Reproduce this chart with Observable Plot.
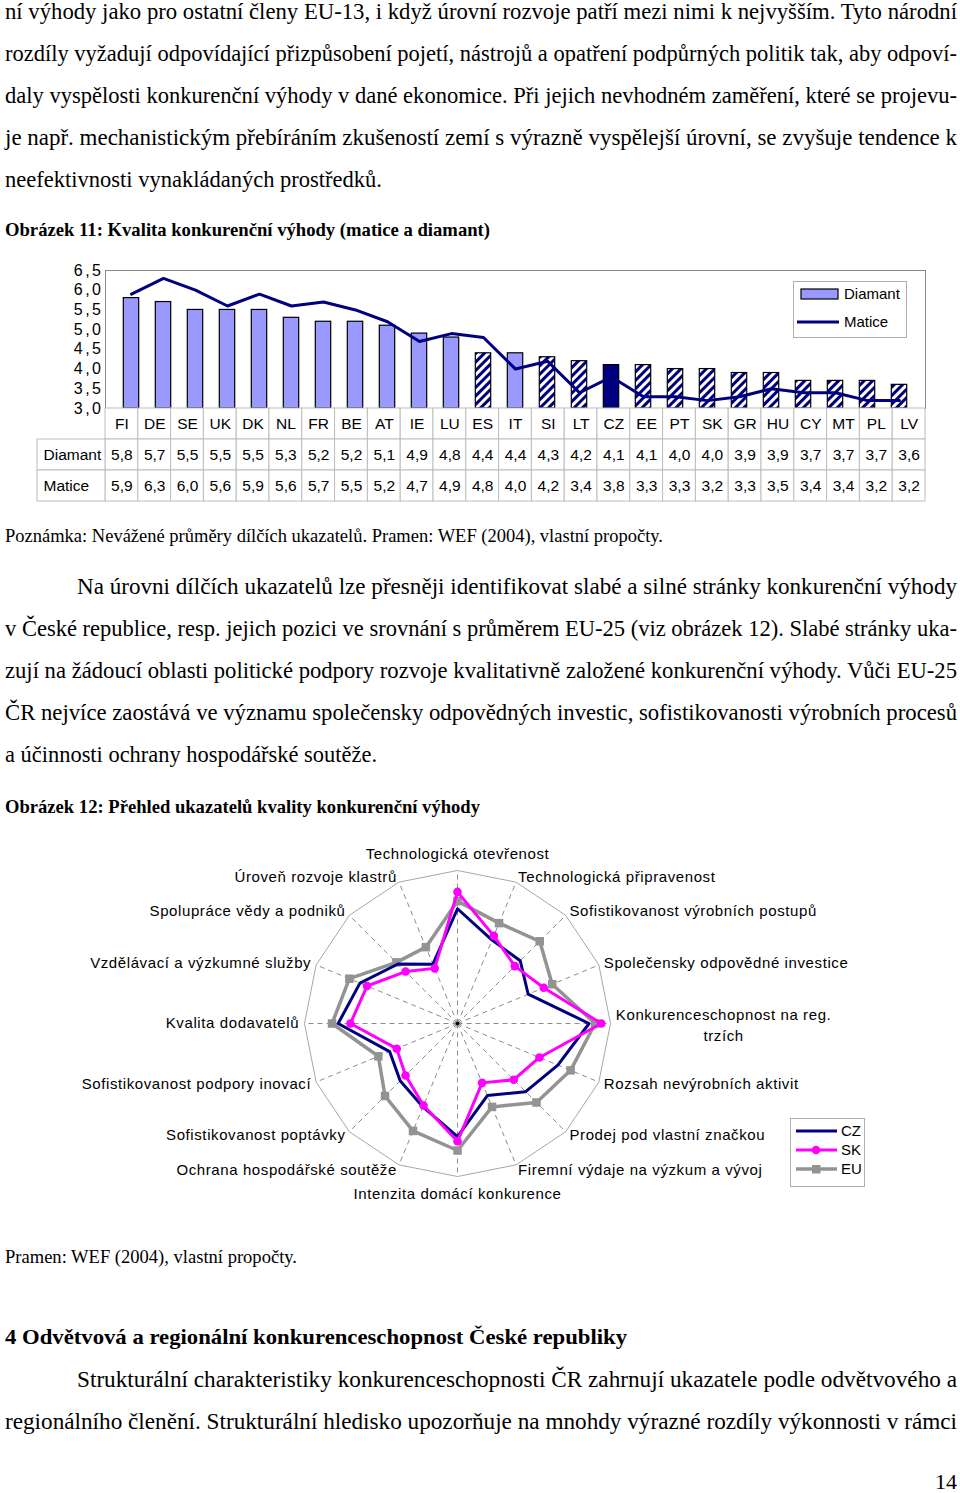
<!DOCTYPE html>
<html><head><meta charset="utf-8">
<script src="https://cdn.jsdelivr.net/npm/d3@7"></script>
<script src="https://cdn.jsdelivr.net/npm/@observablehq/plot@0.6"></script>
<style>
html,body{margin:0;padding:0;background:#fff;}
body{position:relative;width:960px;height:1493px;overflow:hidden;}
.ln{position:absolute;white-space:nowrap;display:inline-block;transform-origin:0 50%;font-family:"Liberation Serif","Times New Roman",serif;color:#000;line-height:1.2;}
svg{overflow:visible;}
.abs{position:absolute;}
#c1 g[aria-label="y-axis tick label"] text{letter-spacing:2.5px;}
</style></head><body>
<svg width="0" height="0" style="position:absolute">
  <defs>
    <pattern id="hatch" patternUnits="userSpaceOnUse" width="6" height="6" patternTransform="rotate(45)">
      <rect width="6" height="6" fill="#ffffff"></rect>
      <rect width="3" height="6" fill="#000080"></rect>
    </pattern>
  </defs>
</svg>
<div id="c1" class="abs" style="left:0;top:250px"></div>
<div id="t1" class="abs" style="left:0;top:408px"></div>
<div id="c2" class="abs" style="left:0;top:835px"></div>

<div class="abs" style="left:793px;top:281px;width:112px;height:55px;border:1px solid #b0b0b0;background:#fff;">
  <svg width="112" height="55" style="font-family:'Liberation Sans',Arial,sans-serif;font-size:15px">
    <rect x="7" y="7" width="37" height="10" fill="#9999ff" stroke="#000" stroke-width="1.2"></rect>
    <text x="50" y="12" dy="0.35em">Diamant</text>
    <line x1="3" x2="45" y1="40" y2="40" stroke="#000080" stroke-width="3"></line>
    <text x="50" y="40" dy="0.35em">Matice</text>
  </svg>
</div>

<div class="abs" style="left:790px;top:1118px;width:73px;height:67px;border:1px solid #b0b0b0;background:#fff;">
  <svg width="73" height="67" style="font-family:'Liberation Sans',Arial,sans-serif;font-size:15px">
    <line x1="5" x2="46" y1="12" y2="12" stroke="#000080" stroke-width="3"></line>
    <text x="50" y="12" dy="0.35em">CZ</text>
    <line x1="5" x2="46" y1="31" y2="31" stroke="#ff00ff" stroke-width="3"></line>
    <circle cx="25" cy="31" r="4.3" fill="#ff00ff"></circle>
    <text x="50" y="31" dy="0.35em">SK</text>
    <line x1="5" x2="46" y1="50" y2="50" stroke="#939393" stroke-width="3.5"></line>
    <rect x="21" y="46" width="8.5" height="8.5" fill="#939393"></rect>
    <text x="50" y="50" dy="0.35em">EU</text>
  </svg>
</div>

<script>
// ---------- Chart 1 data (Obrázek 11) ----------
const countries = ["FI","DE","SE","UK","DK","NL","FR","BE","AT","IE","LU","ES","IT","SI","LT","CZ","EE","PT","SK","GR","HU","CY","MT","PL","LV"];
const diamant = [5.8,5.7,5.5,5.5,5.5,5.3,5.2,5.2,5.1,4.9,4.8,4.4,4.4,4.3,4.2,4.1,4.1,4.0,4.0,3.9,3.9,3.7,3.7,3.7,3.6];
const matice  = [5.9,6.3,6.0,5.6,5.9,5.6,5.7,5.5,5.2,4.7,4.9,4.8,4.0,4.2,3.4,3.8,3.3,3.3,3.2,3.3,3.5,3.4,3.4,3.2,3.2];
const hatchedCountries = ["ES","SI","LT","EE","PT","SK","GR","HU","CY","MT","PL","LV"];
const highlightCountry = "CZ";
const yTicks = [3.0,3.5,4.0,4.5,5.0,5.5,6.0,6.5];
const tableRows = ["axis","Diamant","Matice"];

// ---------- Chart 2 data (Obrázek 12) ----------
const indicators = ["Technologická otevřenost","Technologická připravenost","Sofistikovanost výrobních postupů","Společensky odpovědné investice","Konkurenceschopnost na reg.\ntrzích","Rozsah nevýrobních aktivit","Prodej pod vlastní značkou","Firemní výdaje na výzkum a vývoj","Intenzita domácí konkurence","Ochrana hospodářské soutěže","Sofistikovanost poptávky","Sofistikovanost podpory inovací","Kvalita dodavatelů","Vzdělávací a výzkumné služby","Spolupráce vědy a podniků","Úroveň rozvoje klastrů"];
const czValues = [5.00,4.36,4.32,4.00,5.44,4.84,4.52,4.04,4.96,4.36,4.12,3.92,5.12,4.76,4.20,3.68];
const skValues = [5.44,4.48,4.12,4.44,5.76,4.32,4.08,3.68,5.08,4.32,3.92,3.72,4.80,4.56,3.92,3.56];
const euValues = [5.20,4.84,5.04,4.68,5.60,5.20,4.92,4.36,5.32,5.04,4.68,4.24,5.28,5.06,4.26,4.16];
const radarDomain = [2, 6];

// ---------- Page text ----------
const B = 23.5;
const textLines = [
  {t:"ní výhody jako pro ostatní členy EU-13, i když úrovní rozvoje patří mezi nimi k nejvyšším. Tyto národní", x:5, w:952, y:12, s:B, j:true},
  {t:"rozdíly vyžadují odpovídající přizpůsobení pojetí, nástrojů a opatření podpůrných politik tak, aby odpoví-", x:5, w:952, y:54, s:B, j:true},
  {t:"daly vyspělosti konkurenční výhody v dané ekonomice. Při jejich nevhodném zaměření, které se projevu-", x:5, w:952, y:96, s:B, j:true},
  {t:"je např. mechanistickým přebíráním zkušeností zemí s výrazně vyspělejší úrovní, se zvyšuje tendence k", x:5, w:952, y:138, s:B, j:true},
  {t:"neefektivnosti vynakládaných prostředků.", x:5, w:377, y:180, s:B},
  {t:"Obrázek 11: Kvalita konkurenční výhody (matice a diamant)", x:5, w:485, y:231, s:19, b:true},
  {t:"Poznámka: Nevážené průměry dílčích ukazatelů. Pramen: WEF (2004), vlastní propočty.", x:5, w:658, y:537, s:19},
  {t:"Na úrovni dílčích ukazatelů lze přesněji identifikovat slabé a silné stránky konkurenční výhody", x:77, w:880, y:587, s:B, j:true},
  {t:"v České republice, resp. jejich pozici ve srovnání s průměrem EU-25 (viz obrázek 12). Slabé stránky uka-", x:5, w:952, y:629, s:B, j:true},
  {t:"zují na žádoucí oblasti politické podpory rozvoje kvalitativně založené konkurenční výhody. Vůči EU-25", x:5, w:952, y:671, s:B, j:true},
  {t:"ČR nejvíce zaostává ve významu společensky odpovědných investic, sofistikovanosti výrobních procesů", x:5, w:952, y:713, s:B, j:true},
  {t:"a účinnosti ochrany hospodářské soutěže.", x:5, w:372, y:755, s:B},
  {t:"Obrázek 12: Přehled ukazatelů kvality konkurenční výhody", x:5, w:475, y:808, s:19, b:true},
  {t:"Pramen: WEF (2004), vlastní propočty.", x:5, w:292, y:1258, s:19},
  {t:"4 Odvětvová a regionální konkurenceschopnost České republiky", x:5, w:622, y:1338, s:22, b:true},
  {t:"Strukturální charakteristiky konkurenceschopnosti ČR zahrnují ukazatele podle odvětvového a", x:77, w:880, y:1380, s:B, j:true},
  {t:"regionálního členění. Strukturální hledisko upozorňuje na mnohdy výrazné rozdíly výkonnosti v rámci", x:5, w:952, y:1422, s:B, j:true},
  {t:"14", x:935, w:22, y:1483, s:22}
];

for (const L of textLines) {
  const el = document.createElement("span");
  el.className = "ln";
  el.textContent = L.t;
  el.style.fontSize = L.s + "px";
  if (L.b) el.style.fontWeight = "bold";
  el.style.left = L.x + "px";
  el.style.top = (L.y - 0.64 * L.s) + "px";
  document.body.appendChild(el);
  const nat = el.getBoundingClientRect().width;
  if (L.j && nat < L.w) {
    const spaces = (L.t.match(/ /g) || []).length;
    el.style.wordSpacing = ((L.w - nat) / spaces) + "px";
  } else {
    el.style.transform = `scaleX(${L.w / nat})`;
  }
}

// ---------- Chart 1 ----------
const fmt = d => d.toFixed(1).replace(".", ",");
const data1 = countries.map((c, i) => ({
  country: c, i, diamant: diamant[i], matice: matice[i],
  kind: c === highlightCountry ? "cz" : hatchedCountries.includes(c) ? "hatch" : "solid"
}));
const mL = 105, mR = 35, W = 960;
const chart1 = Plot.plot({
  width: W, height: 158, marginTop: 20, marginBottom: 0, marginLeft: mL, marginRight: mR,
  x: {type: "band", domain: countries, padding: 0, axis: null},
  y: {domain: [3, 6.5], axis: null},
  style: {fontFamily: "'Liberation Sans', Arial, sans-serif", fontSize: "15px", background: "transparent", overflow: "visible"},
  marks: [
    Plot.frame({stroke: "#8a8a8a"}),
    Plot.barY(data1.filter(d => d.kind === "solid"), {x: "country", y1: 3, y2: "diamant", fill: "#9999ff", stroke: "#000", strokeWidth: 1.2, insetLeft: 8.3, insetRight: 8.3}),
    Plot.barY(data1.filter(d => d.kind === "hatch"), {x: "country", y1: 3, y2: "diamant", fill: "url(#hatch)", stroke: "#000", strokeWidth: 1.2, insetLeft: 8.3, insetRight: 8.3}),
    Plot.barY(data1.filter(d => d.kind === "cz"), {x: "country", y1: 3, y2: "diamant", fill: "#000080", stroke: "#000", strokeWidth: 1.2, insetLeft: 8.3, insetRight: 8.3}),
    Plot.lineY(data1, {x: "country", y: "matice", stroke: "#000080", strokeWidth: 3}),
    Plot.axisY(yTicks, {tickSize: 0, tickPadding: 2, tickFormat: fmt, fontSize: 16})
  ]
});
document.getElementById("c1").appendChild(chart1);

// ---------- Table under chart 1 ----------
const bw = (W - mL - mR) / countries.length;
const hdrLeft = 37;
const hdr = (mL - hdrLeft) / bw;
const cells = [];
countries.forEach((c, i) => {
  cells.push({i, row: "axis", label: c});
  cells.push({i, row: "Diamant", label: fmt(diamant[i])});
  cells.push({i, row: "Matice", label: fmt(matice[i])});
});
const table1 = Plot.plot({
  width: W, height: 93, marginTop: 0, marginBottom: 0, marginLeft: hdrLeft, marginRight: mR,
  x: {domain: [-hdr, countries.length], axis: null},
  y: {type: "band", domain: tableRows, padding: 0, axis: null},
  style: {fontFamily: "'Liberation Sans', Arial, sans-serif", fontSize: "15px", background: "transparent", overflow: "visible"},
  marks: [
    Plot.barX(cells, {x1: "i", x2: d => d.i + 1, y: "row", fill: "white", stroke: "#bdbdbd"}),
    Plot.barX(tableRows.slice(1), {x1: -hdr, x2: 0, y: d => d, fill: "white", stroke: "#bdbdbd"}),
    Plot.text(cells, {x: d => d.i + 0.5, y: "row", text: "label", fontSize: 15.5}),
    Plot.text(tableRows.slice(1), {x: -hdr, y: d => d, text: d => d, textAnchor: "start", dx: 6, fontSize: 15.5})
  ]
});
document.getElementById("t1").appendChild(table1);

// ---------- Chart 2 (radar) ----------
const N = indicators.length;
const rS = d3.scaleLinear().domain(radarDomain).range([0, 1]);
const ang = i => i * 2 * Math.PI / N;
const RW = 960, RH = 380, Rpx = 153, rcx = 457, rcy = 188;
const seriesDefs = [
  {name: "EU", values: euValues},
  {name: "CZ", values: czValues},
  {name: "SK", values: skValues}
];
const pts = {};
for (const s of seriesDefs) pts[s.name] = s.values.map((v, i) => ({name: s.name, i, v}));
const closed = a => [...a, a[0]];
const px = d => rS(d.v) * Math.sin(ang(d.i));
const py = d => rS(d.v) * Math.cos(ang(d.i));
const ring = d3.range(N + 1).map(i => i % N);
const labels = indicators.map((label, i) => ({label, i}));
const Ls = 1.035, Lv = 1.075;
const lx = (d, r) => r * Math.sin(ang(d.i));
const ly = (d, r) => r * Math.cos(ang(d.i));
const isTop = d => d.i === 0, isBottom = d => d.i === N / 2, isRightSpecial = d => d.label.includes("\n");
const ctx = document.createElement("canvas").getContext("2d");
ctx.font = "15px 'Liberation Sans'";
const special = labels.find(isRightSpecial);
const firstLine = special.label.split("\n")[0];
const specialDx = (ctx.measureText(firstLine).width + 0.6 * firstLine.length) / 2;

const chart2 = Plot.plot({
  width: RW, height: RH, margin: 0,
  x: {domain: [-rcx / Rpx, (RW - rcx) / Rpx], range: [0, RW], axis: null},
  y: {domain: [-(RH - rcy) / Rpx, rcy / Rpx], range: [RH, 0], axis: null},
  style: {fontFamily: "'Liberation Sans', Arial, sans-serif", fontSize: "15px", letterSpacing: "0.6px", background: "transparent", overflow: "visible"},
  marks: [
    Plot.line(ring, {x: i => Math.sin(ang(i)), y: i => Math.cos(ang(i)), stroke: "#a8a8a8", strokeWidth: 1}),
    Plot.link(d3.range(N), {x1: 0, y1: 0, x2: i => Math.sin(ang(i)), y2: i => Math.cos(ang(i)), stroke: "#8c8c8c", strokeWidth: 1, strokeDasharray: "5,4"}),
    Plot.dot([0], {x: 0, y: 0, r: 1.8, fill: "#000"}),
    Plot.line(closed(pts.EU), {x: px, y: py, stroke: "#939393", strokeWidth: 3.5}),
    Plot.dot(pts.EU, {x: px, y: py, symbol: "square", r: 4.8, fill: "#939393"}),
    Plot.line(closed(pts.CZ), {x: px, y: py, stroke: "#000080", strokeWidth: 3}),
    Plot.line(closed(pts.SK), {x: px, y: py, stroke: "#ff00ff", strokeWidth: 3}),
    Plot.dot(pts.SK, {x: px, y: py, symbol: "circle", r: 4.3, fill: "#ff00ff"}),
    Plot.text(labels.filter(isTop), {x: d => lx(d, Lv), y: d => ly(d, Lv), text: "label", textAnchor: "middle", lineAnchor: "bottom"}),
    Plot.text(labels.filter(isBottom), {x: d => lx(d, Lv), y: d => ly(d, Lv), text: "label", textAnchor: "middle", lineAnchor: "top"}),
    Plot.text(labels.filter(d => !isTop(d) && !isBottom(d) && !isRightSpecial(d) && d.i < N / 2), {x: d => lx(d, Ls), y: d => ly(d, Ls), text: "label", textAnchor: "start", lineAnchor: "middle"}),
    Plot.text(labels.filter(d => d.i > N / 2), {x: d => lx(d, Ls), y: d => ly(d, Ls), text: "label", textAnchor: "end", lineAnchor: "middle"}),
    Plot.text(labels.filter(isRightSpecial), {x: d => lx(d, Ls), y: d => ly(d, Ls), text: "label", textAnchor: "middle", lineAnchor: "middle", lineHeight: 1.45, dx: specialDx})
  ]
});
document.getElementById("c2").appendChild(chart2);
</script>
</body></html>
